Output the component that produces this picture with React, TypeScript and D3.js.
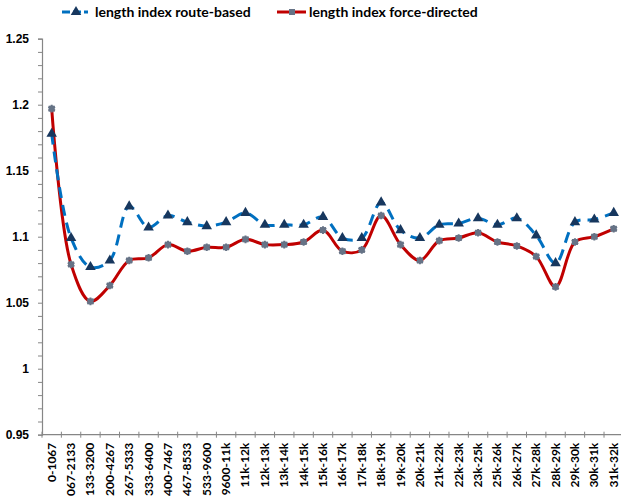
import React, { useEffect, useRef } from 'react';
import * as d3 from 'd3';

const categories = [
  '0-1067', '1067-2133', '2133-3200', '3200-4267', '4267-5333', '5333-6400',
  '6400-7467', '7467-8533', '8533-9600', '9600-11k', '11k-12k', '12k-13k',
  '13k-14k', '14k-15k', '15k-16k', '16k-17k', '17k-18k', '18k-19k', '19k-20k',
  '20k-21k', '21k-22k', '22k-23k', '23k-25k', '25k-26k', '26k-27k', '27k-28k',
  '28k-29k', '29k-30k', '30k-31k', '31k-32k',
];

const routeBased = [
  1.178, 1.099, 1.077, 1.082, 1.123, 1.107, 1.116, 1.111, 1.108, 1.111,
  1.118, 1.109, 1.109, 1.109, 1.115, 1.099, 1.099, 1.126, 1.105, 1.099,
  1.109, 1.110, 1.114, 1.109, 1.114, 1.101, 1.080, 1.111, 1.113, 1.118,
];

const forceDirected = [
  1.197, 1.079, 1.051, 1.063, 1.082, 1.084, 1.094, 1.089, 1.092, 1.092,
  1.098, 1.094, 1.094, 1.096, 1.105, 1.089, 1.090, 1.116, 1.094, 1.082,
  1.097, 1.099, 1.103, 1.096, 1.093, 1.085, 1.062, 1.096, 1.100, 1.106,
];

const yTicks = [0.95, 1, 1.05, 1.1, 1.15, 1.2, 1.25];
const seriesNames = ['length index route-based', 'length index force-directed'];

export default () => {
  const svgRef = useRef<SVGSVGElement>(null);

  useEffect(() => {
    if (!svgRef.current) return;
    document.body.style.margin = '0';

    const width = 621;
    const height = 496;
    const left = 42;
    const top = 38.7;
    const bottom = 434.7;
    const plotRight = left + 19.38 * categories.length;

    const svg = d3.select(svgRef.current)
      .attr('width', width)
      .attr('height', height)
      .style('font-family', 'Lato, "DejaVu Sans", sans-serif');
    svg.selectAll('*').remove();

    const x = d3.scaleBand().domain(categories).range([left, plotRight]);
    const y = d3.scaleLinear().domain([0.95, 1.25]).range([bottom, top]);
    const cx = (c: string) => (x(c) || 0) + x.bandwidth() / 2;

    // y axis with minor ticks
    const yAxis = d3.axisLeft(y)
      .tickValues(d3.range(0.95, 1.2501, 0.01))
      .tickSize(4)
      .tickFormat((d) => {
        const v = +d;
        return yTicks.some((t) => Math.abs(t - v) < 1e-6) ? d3.format('')(+v.toFixed(2)) : '';
      });
    const gy = svg.append('g').attr('transform', `translate(${left},0)`).call(yAxis);
    gy.select('.domain').attr('stroke', '#868686').attr('stroke-width', 1.2);
    gy.selectAll('.tick line').attr('stroke', '#868686');
    gy.selectAll('.tick text')
      .attr('x', -13)
      .attr('fill', '#000')
      .style('font-size', '12px')
      .style('font-weight', 'bold');

    // x axis, ticks between categories
    const gx = svg.append('g').attr('transform', `translate(0,${bottom})`);
    gx.append('line')
      .attr('x1', left).attr('x2', plotRight)
      .attr('stroke', '#868686').attr('stroke-width', 1.2);
    gx.selectAll('line.tk')
      .data(categories.map((c) => x(c) || 0).concat([plotRight]))
      .enter()
      .append('line')
      .attr('class', 'tk')
      .attr('x1', (d) => d).attr('x2', (d) => d)
      .attr('y1', -3).attr('y2', 3)
      .attr('stroke', '#868686');
    gx.selectAll('text')
      .data(categories)
      .enter()
      .append('text')
      .attr('transform', (d) => `translate(${cx(d) + 4},8) rotate(-90)`)
      .attr('text-anchor', 'end')
      .style('font-size', '12px')
      .style('font-weight', 'bold')
      .text((d) => d);

    const line = d3.line<number>()
      .x((d, i) => cx(categories[i]))
      .y((d) => y(d))
      .curve(d3.curveCatmullRom.alpha(0.5));

    const tri = d3.symbol().type(d3.symbolTriangle).size(48);
    const star = d3.symbol().type(d3.symbolAsterisk).size(40);

    // red series
    svg.append('path')
      .attr('d', line(forceDirected))
      .attr('fill', 'none')
      .attr('stroke', '#C00000')
      .attr('stroke-width', 3);
    const redPts = svg.append('g').selectAll('g')
      .data(forceDirected)
      .enter()
      .append('g')
      .attr('transform', (d, i) => `translate(${cx(categories[i])},${y(d)})`);
    redPts.append('rect')
      .attr('x', -3).attr('y', -3).attr('width', 6).attr('height', 6)
      .attr('fill', '#667386');
    redPts.append('path')
      .attr('d', star())
      .attr('stroke', '#667386').attr('stroke-width', 2).attr('fill', 'none');

    // blue series
    svg.append('path')
      .attr('d', line(routeBased))
      .attr('fill', 'none')
      .attr('stroke', '#0070C0')
      .attr('stroke-width', 3)
      .attr('stroke-dasharray', '11,7');
    svg.append('g').selectAll('path')
      .data(routeBased)
      .enter()
      .append('path')
      .attr('d', tri())
      .attr('transform', (d, i) => `translate(${cx(categories[i])},${y(d)})`)
      .attr('fill', '#17375E');

    // legend
    const lg = svg.append('g');
    lg.append('line')
      .attr('x1', 62).attr('x2', 88).attr('y1', 12).attr('y2', 12)
      .attr('stroke', '#0070C0').attr('stroke-width', 3).attr('stroke-dasharray', '8,3');
    lg.append('path').attr('d', tri()).attr('transform', 'translate(76,12)').attr('fill', '#17375E');
    lg.append('text').attr('x', 95).attr('y', 17)
      .style('font-size', '14px').style('font-weight', 'bold').text(seriesNames[0]);
    lg.append('line')
      .attr('x1', 277).attr('x2', 306).attr('y1', 12).attr('y2', 12)
      .attr('stroke', '#C00000').attr('stroke-width', 3);
    lg.append('rect').attr('x', 289).attr('y', 9).attr('width', 6).attr('height', 6).attr('fill', '#667386');
    lg.append('text').attr('x', 309).attr('y', 17)
      .style('font-size', '14px').style('font-weight', 'bold').text(seriesNames[1]);
  }, []);

  return <svg ref={svgRef} style={{ display: 'block' }} />;
};
